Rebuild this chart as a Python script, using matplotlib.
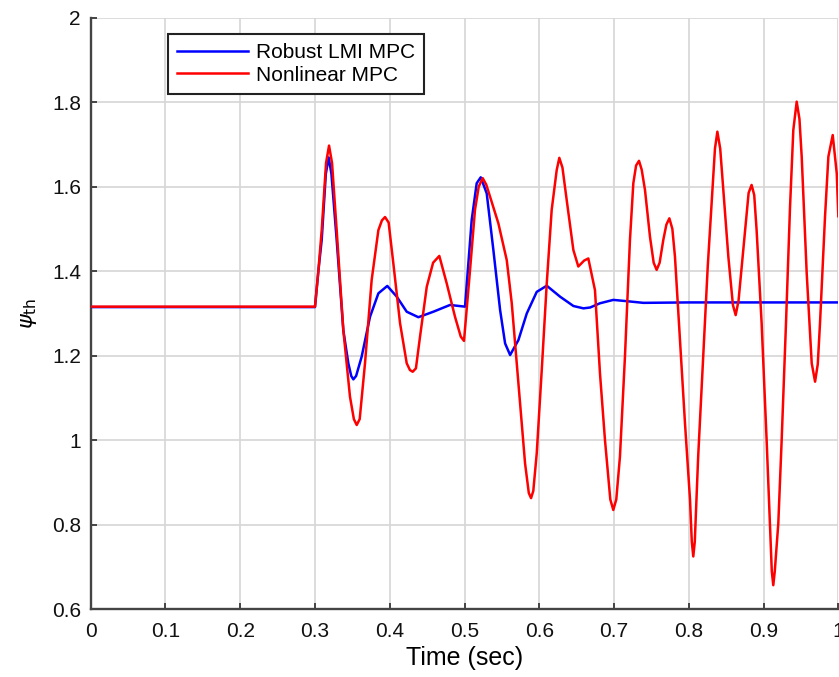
#Imports
import matplotlib
matplotlib.use("Agg")
import matplotlib.pyplot as plt

#Fonts and edges
plt.rcParams["font.family"] = ["Liberation Sans", "DejaVu Sans"]
plt.rcParams["mathtext.fontset"] = "dejavusans"
plt.rcParams["axes.linewidth"] = 1.7

#Robust LMI MPC (blue)
tBlue = [0.000, 0.300, 0.3045, 0.309, 0.3145, 0.3183, 0.322, 0.329, 0.3379, 0.3446,
         0.3485, 0.3513, 0.355, 0.3624, 0.3736, 0.3848, 0.3967, 0.4092, 0.4227, 0.4383,
         0.4583, 0.4806, 0.5007, 0.5096, 0.5163, 0.5217, 0.5297, 0.5386, 0.5476, 0.5543,
         0.561, 0.5721, 0.5833, 0.5966, 0.610, 0.6279, 0.6457, 0.6591, 0.668, 0.6812,
         0.699, 0.7168, 0.7392, 0.800, 1.000]
psiBlue = [1.315, 1.315, 1.40, 1.474, 1.63, 1.669, 1.63, 1.474, 1.26, 1.182,
           1.152, 1.144, 1.152, 1.1975, 1.292, 1.3475, 1.365, 1.340, 1.304, 1.291,
           1.304, 1.320, 1.316, 1.521, 1.608, 1.622, 1.584, 1.45, 1.308, 1.229,
           1.2016, 1.237, 1.300, 1.351, 1.3655, 1.3395, 1.3175, 1.312, 1.314, 1.324,
           1.332, 1.329, 1.325, 1.326, 1.326]

#Nonlinear MPC (red)
tRed = [0.000, 0.300, 0.3045, 0.309, 0.3148, 0.3188, 0.3228, 0.329, 0.3379, 0.3468,
        0.352, 0.3558, 0.3598, 0.3669, 0.3758, 0.3848, 0.3895, 0.3937, 0.3985, 0.4048,
        0.4138, 0.4227, 0.427, 0.4307, 0.435, 0.4405, 0.4495, 0.458, 0.4663, 0.4762,
        0.4873, 0.495, 0.4993, 0.5074, 0.514, 0.519, 0.5243, 0.529, 0.5342, 0.5453,
        0.5565, 0.5632, 0.5721, 0.581, 0.586, 0.589, 0.592, 0.5966, 0.6033, 0.610,
        0.6166, 0.6233, 0.6268, 0.631, 0.6367, 0.6456, 0.6522, 0.660, 0.6656, 0.6745,
        0.6812, 0.6879, 0.695, 0.699, 0.703, 0.7079, 0.7146, 0.7213, 0.7258, 0.7295,
        0.7334, 0.737, 0.7414, 0.7481, 0.753, 0.757, 0.761, 0.7659, 0.770, 0.774,
        0.778, 0.7815, 0.7882, 0.7949, 0.8016, 0.804, 0.806, 0.808, 0.8125, 0.8208,
        0.8253, 0.8307, 0.835, 0.8382, 0.842, 0.8462, 0.8529, 0.859, 0.8627, 0.8665,
        0.8729, 0.880, 0.884, 0.8875, 0.8907, 0.8974, 0.9041, 0.9085, 0.911, 0.913,
        0.915, 0.9197, 0.9242, 0.930, 0.9354, 0.9398, 0.9443, 0.948, 0.951, 0.9577,
        0.9644, 0.9689, 0.9725, 0.9755, 0.9822, 0.9867, 0.9925, 0.9979, 1.000]
psiRed = [1.316, 1.316, 1.40, 1.497, 1.656, 1.697, 1.656, 1.497, 1.261, 1.103,
          1.05, 1.036, 1.05, 1.182, 1.379, 1.497, 1.52, 1.528, 1.515, 1.4185,
          1.2765, 1.182, 1.166, 1.162, 1.17, 1.245, 1.363, 1.42, 1.436, 1.371,
          1.292, 1.245, 1.235, 1.403, 1.545, 1.60, 1.620, 1.605, 1.576, 1.513,
          1.426, 1.324, 1.135, 0.945, 0.875, 0.863, 0.88, 0.969, 1.166, 1.371,
          1.545, 1.639, 1.668, 1.645, 1.568, 1.45, 1.411, 1.425, 1.430, 1.355,
          1.158, 1.000, 0.86, 0.835, 0.86, 0.961, 1.198, 1.474, 1.608, 1.65,
          1.661, 1.64, 1.592, 1.481, 1.42, 1.403, 1.42, 1.474, 1.51, 1.525,
          1.50, 1.434, 1.237, 1.040, 0.86, 0.76, 0.725, 0.76, 0.96, 1.25,
          1.41, 1.568, 1.69, 1.730, 1.69, 1.592, 1.434, 1.32, 1.296, 1.33,
          1.45, 1.585, 1.604, 1.58, 1.497, 1.277, 1.000, 0.803, 0.69, 0.657,
          0.69, 0.803, 1.000, 1.277, 1.552, 1.734, 1.801, 1.76, 1.671, 1.395,
          1.182, 1.1385, 1.18, 1.277, 1.529, 1.671, 1.722, 1.631, 1.53]

xTicks = [0, 0.1, 0.2, 0.3, 0.4, 0.5, 0.6, 0.7, 0.8, 0.9, 1]
xTickLabels = ["0", "0.1", "0.2", "0.3", "0.4", "0.5", "0.6", "0.7", "0.8", "0.9", "1"]
yTicks = [0.6, 0.8, 1.0, 1.2, 1.4, 1.6, 1.8, 2.0]
yTickLabels = ["0.6", "0.8", "1", "1.2", "1.4", "1.6", "1.8", "2"]

#Figure and axes placed like the original
fig = plt.figure(figsize=(8.39, 6.77), dpi=100)
ax = fig.add_axes([0.1081, 0.1000, 0.8911, 0.8741])

ax.plot(tBlue, psiBlue, color="#0000ff", linewidth=1.8, label="Robust LMI MPC", zorder=3)
ax.plot(tRed, psiRed, color="#ff0000", linewidth=1.8, label="Nonlinear MPC", zorder=4)

ax.set_xlim(0, 1)
ax.set_ylim(0.6, 2)
ax.set_xticks(xTicks)
ax.set_xticklabels(xTickLabels)
ax.set_yticks(yTicks)
ax.set_yticklabels(yTickLabels)

#Grid and spines
ax.grid(True, color="#d6d6d6", linewidth=1.2)
ax.set_axisbelow(True)
ax.spines["top"].set_visible(False)
ax.spines["right"].set_visible(False)
ax.spines["left"].set_color("#444444")
ax.spines["bottom"].set_color("#444444")
ax.tick_params(axis="both", direction="in", length=4, width=1.4, color="#444444", labelsize=15, labelcolor="#111111")
ax.tick_params(axis="x", pad=9)
ax.tick_params(axis="y", pad=7)

ax.set_xlabel("Time (sec)", fontsize=18, labelpad=4)
ax.set_ylabel(r"$\psi_{\mathrm{th}}$", fontsize=16, labelpad=9)

leg = ax.legend(loc="upper left", bbox_to_anchor=(0.1034, 0.972), borderaxespad=0,
                fontsize=15, handlelength=3.4, handletextpad=0.35, labelspacing=0.15,
                borderpad=0.45, fancybox=False, framealpha=1)
leg.get_frame().set_edgecolor("#222222")
leg.get_frame().set_linewidth(1.5)

plt.savefig("out.png", dpi=100)
plt.close()
